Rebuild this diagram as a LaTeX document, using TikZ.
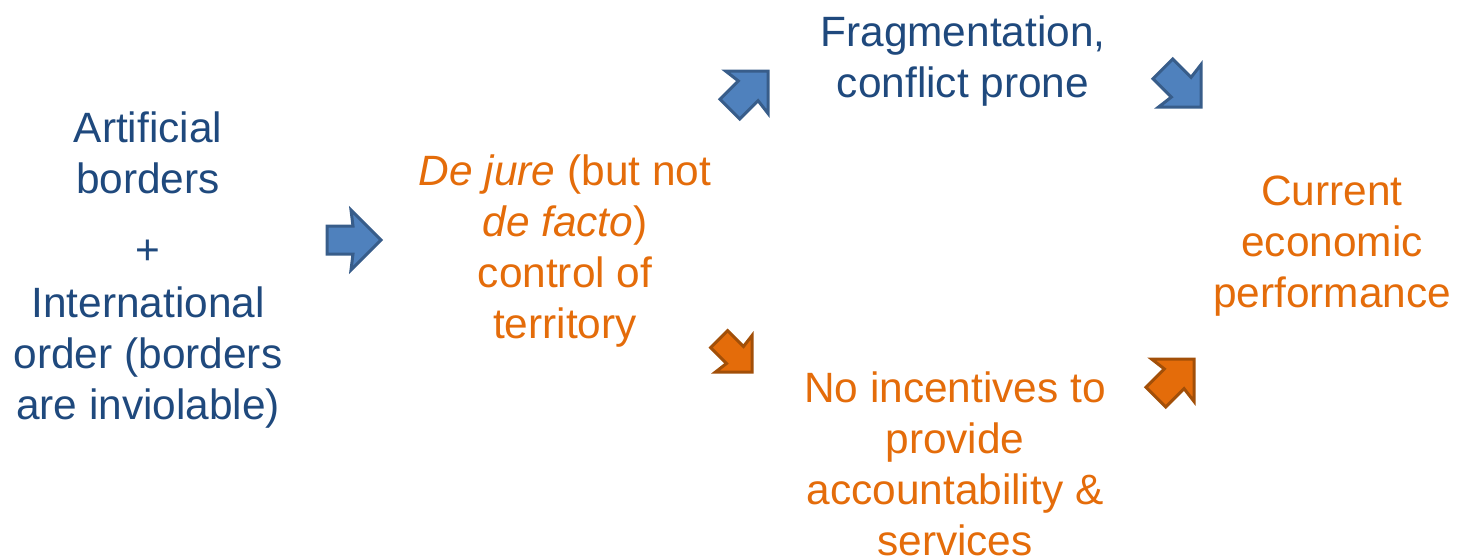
\documentclass[tikz,border=0pt]{standalone}
\usepackage{fontspec}
\setmainfont{Liberation Sans}
\definecolor{txtblue}{HTML}{1F497D}
\definecolor{txtorange}{HTML}{E46C0A}
\definecolor{arrblue}{HTML}{4F81BD}
\definecolor{arrblueline}{HTML}{385D8A}
\definecolor{arrorange}{HTML}{E46C0A}
\definecolor{arrorangeline}{HTML}{A24F08}
\begin{document}
\begin{tikzpicture}[x=1pt,y=-1pt,
  txt/.style={align=center, anchor=base, inner sep=0pt, font=\fontsize{42.4}{51}\selectfont},
  bluetxt/.style={txt, text=txtblue},
  orangetxt/.style={txt, text=txtorange},
  bluearrow/.style={fill=arrblue, draw=arrblueline, line width=3pt, line join=miter},
  orangearrow/.style={fill=arrorange, draw=arrorangeline, line width=3pt, line join=miter},
  barrow/.pic={\path[pic actions] (0,0) -- (-30,30) -- (-28,14) -- (-54,14) -- (-54,-14) -- (-28,-14) -- (-30,-30) -- cycle;}
]
\useasboundingbox (0,0) rectangle (1461,558);

% base anchor = baseline of the last line
\node[bluetxt] (cause) at (148,419) {Artificial\\borders\\[20pt]+\\[2pt]International\\order (borders\\are inviolable)};
\node[orangetxt] (control) at (565,338) {\textit{De jure} (but not\\\textit{de facto})\\control of\\territory};
\node[bluetxt] (frag) at (963,97) {Fragmentation,\\conflict prone};
\node[orangetxt] (perf) at (1332,307) {Current\\economic\\performance};
\node[orangetxt] (incent) at (955,555) {No incentives to\\provide\\accountability \&\\services};

\path (381,240) pic[bluearrow] {barrow};
\path (768,71) pic[bluearrow, rotate=45] {barrow};
\path (1201,107) pic[bluearrow, rotate=-45] {barrow};
\path (752,372) pic[orangearrow, rotate=-45, scale=0.86] {barrow};
\path (1194,359) pic[orangearrow, rotate=45] {barrow};
\end{tikzpicture}
\end{document}
